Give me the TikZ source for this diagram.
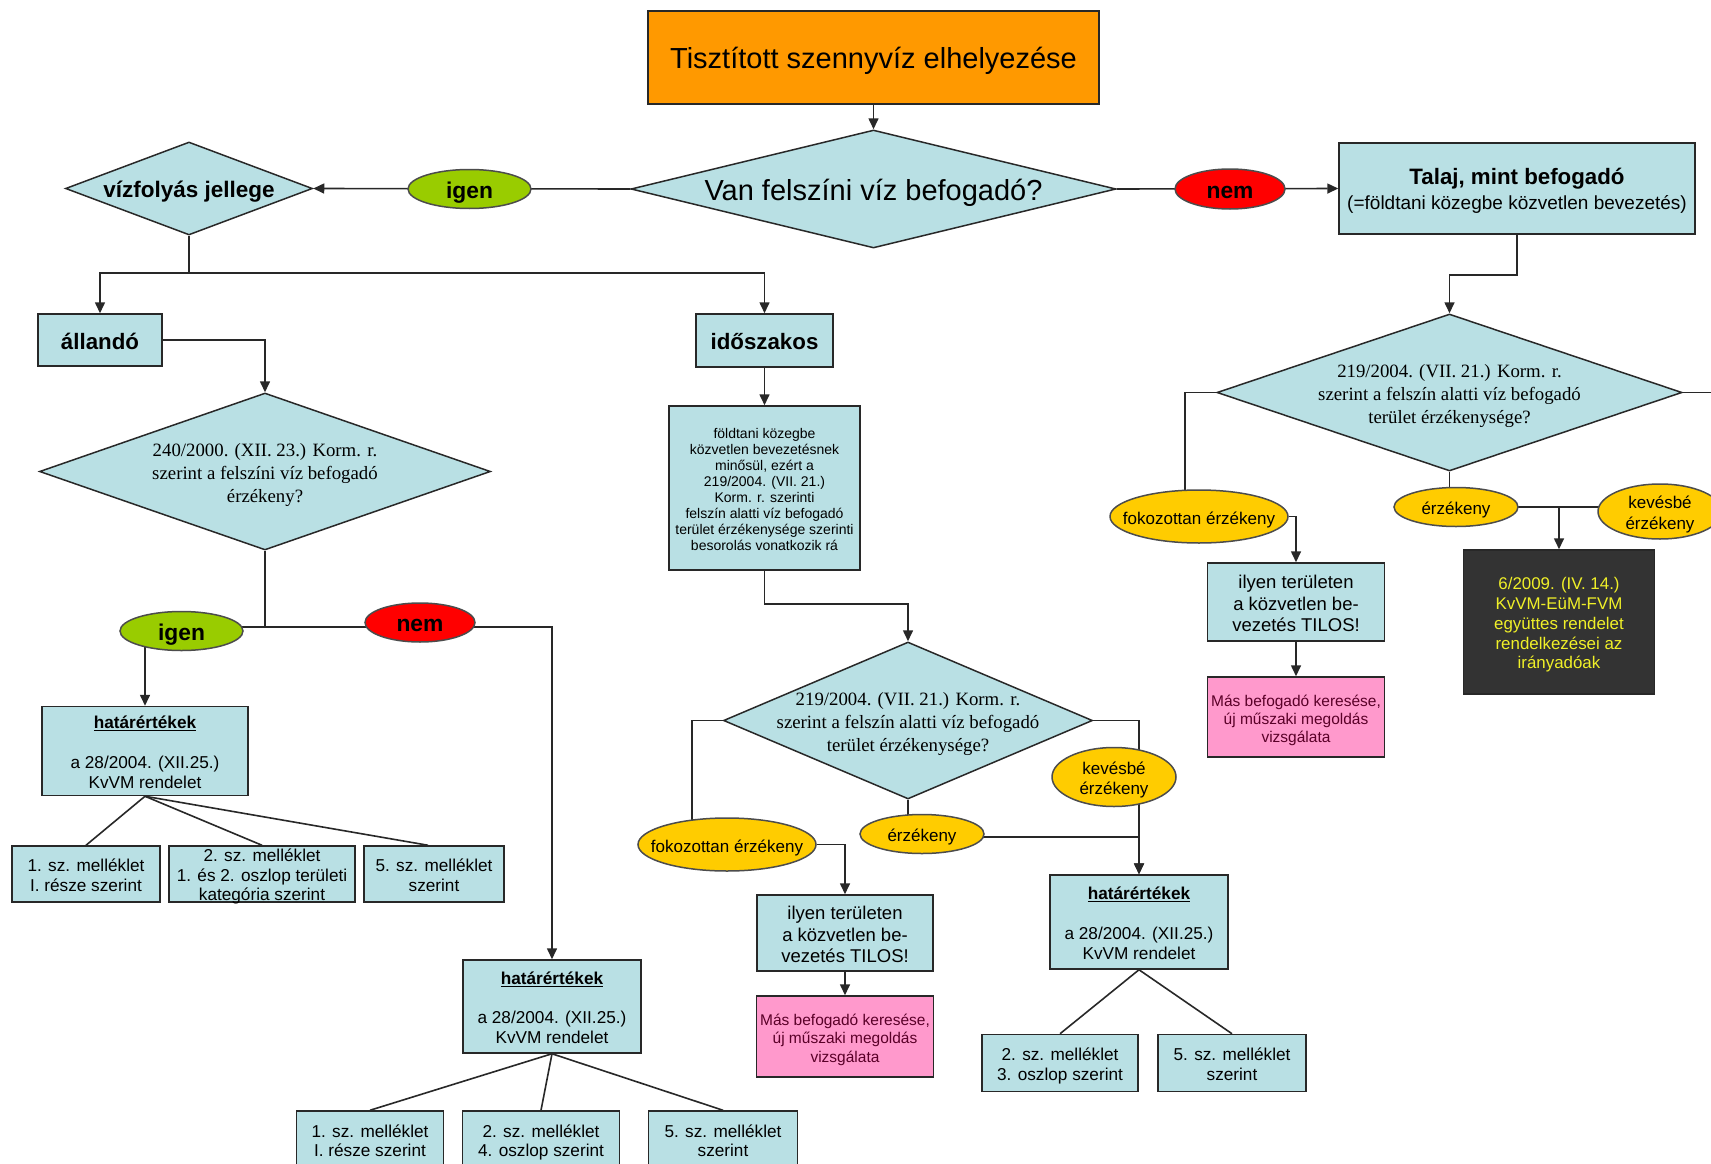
\documentclass[tikz,border=0pt]{standalone}
\usepackage{fontspec}
\setmainfont{Liberation Sans}
\newfontfamily\tnr{Liberation Serif}
\usetikzlibrary{shapes.geometric,arrows.meta,backgrounds,calc}

\definecolor{lb}{RGB}{185,224,228}
\definecolor{orng}{RGB}{255,153,0}
\definecolor{grn}{RGB}{153,204,0}
\definecolor{rd}{RGB}{255,0,0}
\definecolor{ylw}{RGB}{255,204,0}
\definecolor{pnk}{RGB}{255,153,204}
\definecolor{drk}{RGB}{51,51,51}
\definecolor{lnc}{RGB}{40,40,40}
\definecolor{txy}{RGB}{240,240,40}
\definecolor{mrn}{RGB}{90,0,40}

% font size shortcut and a centred text block that takes no room in its node
\newcommand{\fs}[2]{\fontsize{#1}{#2}\selectfont}
\newcommand{\zbox}[1]{\raisebox{\dimexpr-0.25em-3.5pt\relax}[0pt][0pt]{\makebox[0pt]{\begin{tabular}{@{}c@{}}#1\end{tabular}}}}

\begin{document}
\begin{tikzpicture}[x=1pt,y=-1pt,
  fcbox/.style={rectangle, draw=lnc, line width=1.5pt, fill=lb, inner sep=0pt},
  fcdia/.style={diamond, draw=lnc, line width=1.5pt, fill=lb, inner sep=0pt},
  fcell/.style={ellipse, draw=black!70, line width=1.5pt, inner sep=0pt},
  con/.style={draw=lnc, line width=1.6pt},
  arr/.style={con, -{Triangle[length=11pt,width=10pt]}},
  small/.style={font=\fs{17.2}{19.8}},
  dtext/.style={font=\tnr\fs{18.8}{23}},
  ytext/.style={font=\fs{17}{20.5}}
]
\useasboundingbox (0,0) rectangle (1711,1164);
\begin{pgfonlayer}{background}
  \fill[white] (0,0) rectangle (1711,1164);
\end{pgfonlayer}
\clip (0,0) rectangle (1711,1164);

% top level
\node[fcbox, fill=orng, minimum width=451pt, minimum height=93pt, font=\fs{29}{34}] (title) at (873.5,57.5) {\zbox{Tisztított szennyvíz elhelyezése}};
\node[fcdia, minimum width=485pt, minimum height=118pt, font=\fs{29}{34}] (d0) at (873.5,189) {\zbox{Van felszíni víz befogadó?}};
\node[fcell, fill=grn, minimum width=123pt, minimum height=39pt, font=\fs{22.8}{26}\bfseries] (igenT) at (469.5,189) {\zbox{igen}};
\node[fcell, fill=rd, minimum width=110pt, minimum height=40pt, font=\fs{22.8}{26}\bfseries] (nemT) at (1230,189) {\zbox{nem}};
\node[fcdia, minimum width=247pt, minimum height=93pt, font=\fs{22.5}{26}\bfseries] (dV) at (189,188.5) {\zbox{vízfolyás jellege}};
\node[fcbox, minimum width=356pt, minimum height=91pt, font=\fs{19}{25}] (talaj) at (1517,188.5) {\zbox{{\fs{22.3}{25}\bfseries Talaj, mint befogadó}\\(=földtani közegbe közvetlen bevezetés)}};

% surface water branch
\node[fcbox, minimum width=124pt, minimum height=52pt, font=\fs{22.3}{26}\bfseries] (allando) at (100,340) {\zbox{állandó}};
\node[fcbox, minimum width=137pt, minimum height=53pt, font=\fs{22.3}{26}\bfseries] (idosz) at (764.5,340.5) {\zbox{időszakos}};

\node[fcdia, minimum width=451pt, minimum height=157pt, dtext] (dA) at (265,471.5) {\zbox{240/2000. (XII. 23.) Korm. r.\\szerint a felszíni víz befogadó\\érzékeny?}};
\node[fcell, fill=grn, minimum width=123pt, minimum height=39pt, font=\fs{22.8}{26}\bfseries] (igenL) at (181.5,631) {\zbox{igen}};
\node[fcell, fill=rd, minimum width=110pt, minimum height=39pt, font=\fs{22.8}{26}\bfseries] (nemL) at (420,622.5) {\zbox{nem}};

\node[fcbox, minimum width=206pt, minimum height=89pt, small] (hat1) at (145,751) {\zbox{\textbf{\underline{határértékek}}\\[19.8pt]a 28/2004. (XII.25.)\\KvVM rendelet}};
\node[fcbox, minimum width=148pt, minimum height=56pt, small] (c1a) at (86,874) {\zbox{1. sz. melléklet\\I. része szerint}};
\node[fcbox, minimum width=186pt, minimum height=56pt, font=\fs{17.2}{19.5}] (c1b) at (262,874) {\zbox{2. sz. melléklet\\1. és 2. oszlop területi\\kategória szerint}};
\node[fcbox, minimum width=140pt, minimum height=56pt, small] (c1c) at (434,874) {\zbox{5. sz. melléklet\\szerint}};

\node[fcbox, minimum width=178pt, minimum height=93pt, small] (hat2) at (552,1006.5) {\zbox{\textbf{\underline{határértékek}}\\[19.8pt]a 28/2004. (XII.25.)\\KvVM rendelet}};
\node[fcbox, minimum width=147pt, minimum height=57pt, small] (c2a) at (370,1139.5) {\zbox{1. sz. melléklet\\I. része szerint}};
\node[fcbox, minimum width=157pt, minimum height=57pt, small] (c2b) at (541,1139.5) {\zbox{2. sz. melléklet\\4. oszlop szerint}};
\node[fcbox, minimum width=149pt, minimum height=57pt, small] (c2c) at (723,1139.5) {\zbox{5. sz. melléklet\\szerint}};

% intermittent flow branch
\node[fcbox, minimum width=191pt, minimum height=164pt, font=\fs{14}{15.9}] (foldt) at (764.5,488) {\zbox{földtani közegbe\\közvetlen bevezetésnek\\minősül, ezért a\\219/2004. (VII. 21.)\\Korm. r. szerinti\\felszín alatti víz befogadó\\terület érzékenysége szerinti\\besorolás vonatkozik rá}};
\node[fcdia, minimum width=369pt, minimum height=157pt, dtext] (dM) at (908,720.5) {\zbox{219/2004. (VII. 21.) Korm. r.\\szerint a felszín alatti víz befogadó\\terület érzékenysége?}};
\node[fcell, fill=ylw, minimum width=178pt, minimum height=53pt, ytext] (fokM) at (727,844.5) {\zbox{fokozottan érzékeny}};
\node[fcell, fill=ylw, minimum width=124pt, minimum height=39pt, ytext] (erzM) at (922,834) {\zbox{érzékeny}};
\node[fcell, fill=ylw, minimum width=124pt, minimum height=59pt, ytext] (kevM) at (1114,777) {\zbox{kevésbé\\érzékeny}};
\node[fcbox, minimum width=178pt, minimum height=94pt, small] (hat3) at (1139,922) {\zbox{\textbf{\underline{határértékek}}\\[19.8pt]a 28/2004. (XII.25.)\\KvVM rendelet}};
\node[fcbox, minimum width=156pt, minimum height=57pt, small] (c3a) at (1060,1063) {\zbox{2. sz. melléklet\\3. oszlop szerint}};
\node[fcbox, minimum width=148pt, minimum height=57pt, small] (c3b) at (1232,1063) {\zbox{5. sz. melléklet\\szerint}};
\node[fcbox, minimum width=176pt, minimum height=76pt, font=\fs{18.5}{21.7}] (ilyenM) at (845,933) {\zbox{ilyen területen\\a közvetlen be-\\vezetés TILOS!}};
\node[fcbox, fill=pnk, text=mrn, minimum width=177pt, minimum height=81pt, font=\fs{15.5}{18.3}] (pinkM) at (845,1036.5) {\zbox{Más befogadó keresése,\\új műszaki megoldás\\vizsgálata}};

% soil as receiver
\node[fcdia, minimum width=465pt, minimum height=157pt, dtext] (dR) at (1449.5,392.5) {\zbox{219/2004. (VII. 21.) Korm. r.\\szerint a felszín alatti víz befogadó\\terület érzékenysége?}};
\node[fcell, fill=ylw, minimum width=178pt, minimum height=53pt, ytext] (fokR) at (1199,516.5) {\zbox{fokozottan érzékeny}};
\node[fcell, fill=ylw, minimum width=124pt, minimum height=39pt, ytext] (erzR) at (1456,507) {\zbox{érzékeny}};
\node[fcell, fill=ylw, minimum width=124pt, minimum height=55pt, ytext] (kevR) at (1660,511.5) {\zbox{kevésbé\\érzékeny}};
\node[fcbox, minimum width=177pt, minimum height=78pt, font=\fs{18.5}{21.7}] (ilyenR) at (1296,602) {\zbox{ilyen területen\\a közvetlen be-\\vezetés TILOS!}};
\node[fcbox, fill=pnk, text=mrn, minimum width=177pt, minimum height=80pt, font=\fs{15.5}{18.3}] (pinkR) at (1296,717) {\zbox{Más befogadó keresése,\\új műszaki megoldás\\vizsgálata}};
\node[fcbox, fill=drk, text=txy, minimum width=191pt, minimum height=144pt, font=\fs{16.9}{19.8}] (black) at (1559,622) {\zbox{6/2009. (IV. 14.)\\KvVM-EüM-FVM\\együttes rendelet\\rendelkezései az\\irányadóak}};

\coordinate (jV) at (189,273);
\coordinate (jA) at (265,627);
\coordinate (offR) at (1760,392.5);

% connectors, drawn beneath the shapes
\begin{pgfonlayer}{background}
  \draw[arr] (title.south) -- (d0.north);
  \draw[arr] (d0.west) -- (dV.east);
  \draw[arr] (d0.east) -- (talaj.west);
  \draw[con] (dV.south) -- (jV);
  \draw[arr] (jV) -| (allando.north);
  \draw[arr] (jV) -| (idosz.north);
  \draw[arr] (allando.east) -| (dA.north);
  \draw[con] (dA.south) -- (jA);
  \draw[arr] (igenL.center |- jA) -| (hat2.north);
  \draw[arr] (hat1.north |- igenL.center) -- (hat1.north);
  \draw[con] (hat1.south) -- (c1a.north);
  \draw[con] (hat1.south) -- (c1b.north);
  \draw[con] (hat1.south) -- ($(c1c.north)+(-6,0)$);
  \draw[con] (hat2.south) -- (c2a.north);
  \draw[con] (hat2.south) -- (c2b.north);
  \draw[con] (hat2.south) -- (c2c.north);

  \draw[arr] (idosz.south) -- (foldt.north);
  \draw[arr] (foldt.south) -- ++(0,33) -| (dM.north);
  \draw[con] (dM.west) -| ($(fokM.center)+(-35,0)$);
  \draw[arr] (fokM.east) -| (ilyenM.north);
  \draw[arr] (ilyenM.south) -- (pinkM.north);
  \draw[con] (dM.south) -- (dM.south |- erzM.center);
  \draw[arr] ($(erzM.center)+(0,3)$) -| (hat3.north);
  \draw[arr] (dM.east) -| (hat3.north);
  \draw[con] (hat3.south) -- (c3a.north);
  \draw[con] (hat3.south) -- (c3b.north);

  \draw[arr] (talaj.south) -- ++(0,40) -| (dR.north);
  \draw[con] (dR.west) -| ($(fokR.center)+(-14,0)$);
  \draw[arr] (fokR.east) -| (ilyenR.north);
  \draw[arr] (ilyenR.south) -- (pinkR.north);
  \draw[con] (dR.south) -- (dR.south |- erzR.center);
  \draw[con] (erzR.center) -- (erzR.center -| kevR.center);
  \draw[arr] (black.north |- erzR.center) -- (black.north);
  \draw[con] (dR.east) -- (offR);
\end{pgfonlayer}
\end{tikzpicture}
\end{document}
